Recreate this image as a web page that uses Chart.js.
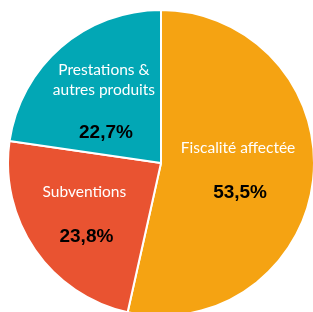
<!DOCTYPE html>
<html>
<head>
<meta charset="utf-8">
<script src="https://cdn.jsdelivr.net/npm/chart.js@4/dist/chart.umd.min.js"></script>
<style>
  html, body { margin: 0; padding: 0; background: #fff; overflow: hidden; width: 313px; height: 312px; }
  #wrap { position: absolute; left: 7px; top: 9px; width: 308px; height: 308px; }
</style>
</head>
<body>
<div id="wrap"><canvas id="pie"></canvas></div>
<script>
const labels = [["Fiscalité affectée"], ["Subventions"], ["Prestations &", "autres produits"]];
const values = [53.5, 23.8, 22.7];
const valueLabels = ["53,5%", "23,8%", "22,7%"];
const colors = ["#F5A312", "#E95331", "#02A7B5"];

// radius factor and nudge for the text block of each slice
const labelRadius = [0.52, 0.6, 0.56];
const labelNudge = [[-2, -1.5], [-1, -0.5], [-1, 3]];
const pctGap = [45, 45, 43];

const sliceText = {
    id: "sliceText",
    afterDatasetsDraw(chart) {
        const ctx = chart.ctx;
        const arcs = chart.getDatasetMeta(0).data;
        ctx.save();
        ctx.textAlign = "center";
        ctx.textBaseline = "middle";
        arcs.forEach((arc, i) => {
            const mid = (arc.startAngle + arc.endAngle) / 2;
            const r = arc.outerRadius * labelRadius[i];
            const cx = arc.x + Math.cos(mid) * r + labelNudge[i][0];
            const cy = arc.y + Math.sin(mid) * r + labelNudge[i][1];
            const lines = labels[i];
            const gap = pctGap[i];
            const blockH = (lines.length - 1) * 20 + gap;
            let y = cy - blockH / 2;
            ctx.fillStyle = "#ffffff";
            ctx.font = "15.5px Lato";
            lines.forEach(l => {
                ctx.fillText(l, cx, y);
                y += 20;
            });
            y += gap - 20;
            ctx.fillStyle = "#000000";
            ctx.font = "bold 19px 'Liberation Sans'";
            ctx.fillText(valueLabels[i], cx + 2, y);
        });
        ctx.restore();
    }
};

new Chart(document.getElementById("pie"), {
    type: "pie",
    data: {
        labels: labels.map(l => l.join(" ")),
        datasets: [{
            data: values,
            backgroundColor: colors,
            borderColor: "#ffffff",
            borderWidth: 2
        }]
    },
    options: {
        responsive: true,
        maintainAspectRatio: false,
        animation: false,
        layout: { padding: 0 },
        plugins: {
            legend: { display: false },
            tooltip: { enabled: false }
        }
    },
    plugins: [sliceText]
});
</script>
</body>
</html>
